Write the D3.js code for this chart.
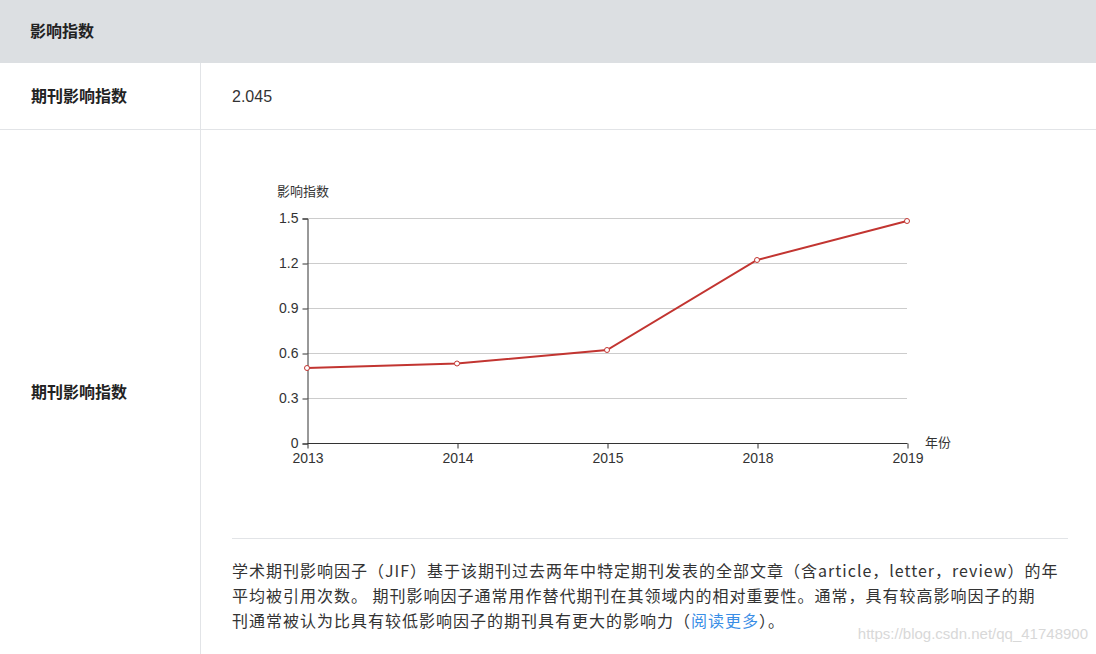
<!DOCTYPE html>
<html lang="zh">
<head>
  <meta charset="UTF-8">
  <title>影响指数</title>
  <script src="https://d3js.org/d3.v7.min.js"></script>
  <style>
    html, body {
      margin: 0;
      padding: 0;
      width: 1096px;
      height: 654px;
      overflow: hidden;
      background: #fff;
      font-family: "Liberation Sans", "Noto Sans CJK SC", sans-serif;
      color: #333;
    }

    .head {
      position: absolute;
      left: 0; top: 0;
      width: 1096px; height: 63px;
      background: #dcdfe2;
    }

    .cell-label {
      position: absolute;
      font-size: 16px;
      font-weight: bold;
      font-family: "Noto Sans CJK SC", sans-serif;
      color: #222;
    }

    .hline, .vline {
      position: absolute;
      background: #e2e4e7;
    }

    .desc {
      position: absolute;
      left: 232px;
      top: 558px;
      font-size: 16px;
      line-height: 25px;
      letter-spacing: 1px;
      color: #333;
      font-family: "Noto Sans CJK SC", sans-serif;
      white-space: nowrap;
    }

    .desc a {
      color: #3a8ee6;
      text-decoration: none;
    }

    .watermark {
      position: absolute;
      right: 8px;
      top: 625px;
      font-size: 15px;
      color: #d8d8d8;
      font-family: "Liberation Sans", sans-serif;
    }

    #chart {
      position: absolute;
      left: 0; top: 0;
    }
  </style>
</head>
<body>

  <div class="head"></div>
  <div class="cell-label" style="left:30px; top:18px;">影响指数</div>

  <div class="cell-label" style="left:31px; top:83px;">期刊影响指数</div>
  <div style="position:absolute; left:232px; top:88px; font-size:16px; color:#333;">2.045</div>

  <div class="hline" style="left:0; top:129px; width:1096px; height:1px;"></div>
  <div class="vline" style="left:200px; top:63px; width:1px; height:591px;"></div>

  <div class="cell-label" style="left:31px; top:379px;">期刊影响指数</div>

  <div class="hline" style="left:232px; top:538px; width:836px; height:1px;"></div>

  <div class="desc">
    学术期刊影响因子（JIF）基于该期刊过去两年中特定期刊发表的全部文章（含article，letter，review）的年<br>
    平均被引用次数。 期刊影响因子通常用作替代期刊在其领域内的相对重要性。通常，具有较高影响因子的期<br>
    刊通常被认为比具有较低影响因子的期刊具有更大的影响力（<a href="#">阅读更多</a>）。
  </div>

  <div class="watermark">https://blog.csdn.net/qq_41748900</div>

  <svg id="chart" width="1096" height="654"></svg>

  <script>
    // chart data
    const years = ["2013", "2014", "2015", "2018", "2019"];
    const impact = [0.50, 0.53, 0.62, 1.22, 1.48];
    const yTicks = [0, 0.3, 0.6, 0.9, 1.2, 1.5];

    const svg = d3.select("#chart");

    const gLeft = 307, gRight = 907, gTop = 218, gBottom = 443;

    const x = d3.scalePoint()
      .domain(years)
      .range([gLeft, gRight]);

    const y = d3.scaleLinear()
      .domain([0, 1.5])
      .range([gBottom, gTop]);

    // grid lines
    svg.append("g")
      .selectAll("line")
      .data(yTicks.filter(t => t > 0))
      .join("line")
      .attr("x1", gLeft)
      .attr("x2", gRight)
      .attr("y1", d => y(d) + 0.5)
      .attr("y2", d => y(d) + 0.5)
      .attr("stroke", "#ccc")
      .attr("stroke-width", 1);

    // y axis
    const yAxis = svg.append("g")
      .attr("transform", `translate(${gLeft + 0.5},0.5)`)
      .call(d3.axisLeft(y).tickValues(yTicks).tickSize(5).tickPadding(4)
        .tickFormat(d => d === 0 ? "0" : d3.format(".1f")(d)));

    // x axis
    const xAxis = svg.append("g")
      .attr("transform", `translate(0.5,${gBottom + 0.5})`)
      .call(d3.axisBottom(x).tickSize(5).tickPadding(5));

    [yAxis, xAxis].forEach(a => {
      a.select(".domain").attr("stroke", "#333");
      a.selectAll(".tick line").attr("stroke", "#333");
      a.selectAll(".tick text")
        .attr("fill", "#333")
        .style("font-size", "14px")
        .style("font-family", "'Liberation Sans', sans-serif");
    });
    xAxis.select(".domain").attr("d", `M${gLeft},0H${gRight}`);
    yAxis.selectAll(".tick text").attr("dy", "0.3em");

    // axis names
    svg.append("text")
      .attr("x", 277)
      .attr("y", 196)
      .attr("fill", "#333")
      .style("font-size", "13px")
      .style("font-family", "'Noto Sans CJK SC', sans-serif")
      .text("影响指数");

    svg.append("text")
      .attr("x", 925)
      .attr("y", 447)
      .attr("fill", "#333")
      .style("font-size", "13px")
      .style("font-family", "'Noto Sans CJK SC', sans-serif")
      .text("年份");

    // series line
    const line = d3.line()
      .x((d, i) => x(years[i]))
      .y(d => y(d));

    svg.append("path")
      .datum(impact)
      .attr("d", line)
      .attr("fill", "none")
      .attr("stroke", "#c23531")
      .attr("stroke-width", 2);

    svg.append("g")
      .selectAll("circle")
      .data(impact)
      .join("circle")
      .attr("cx", (d, i) => x(years[i]))
      .attr("cy", d => y(d))
      .attr("r", 2.5)
      .attr("fill", "#fff")
      .attr("stroke", "#c23531")
      .attr("stroke-width", 1);
  </script>

</body>
</html>
